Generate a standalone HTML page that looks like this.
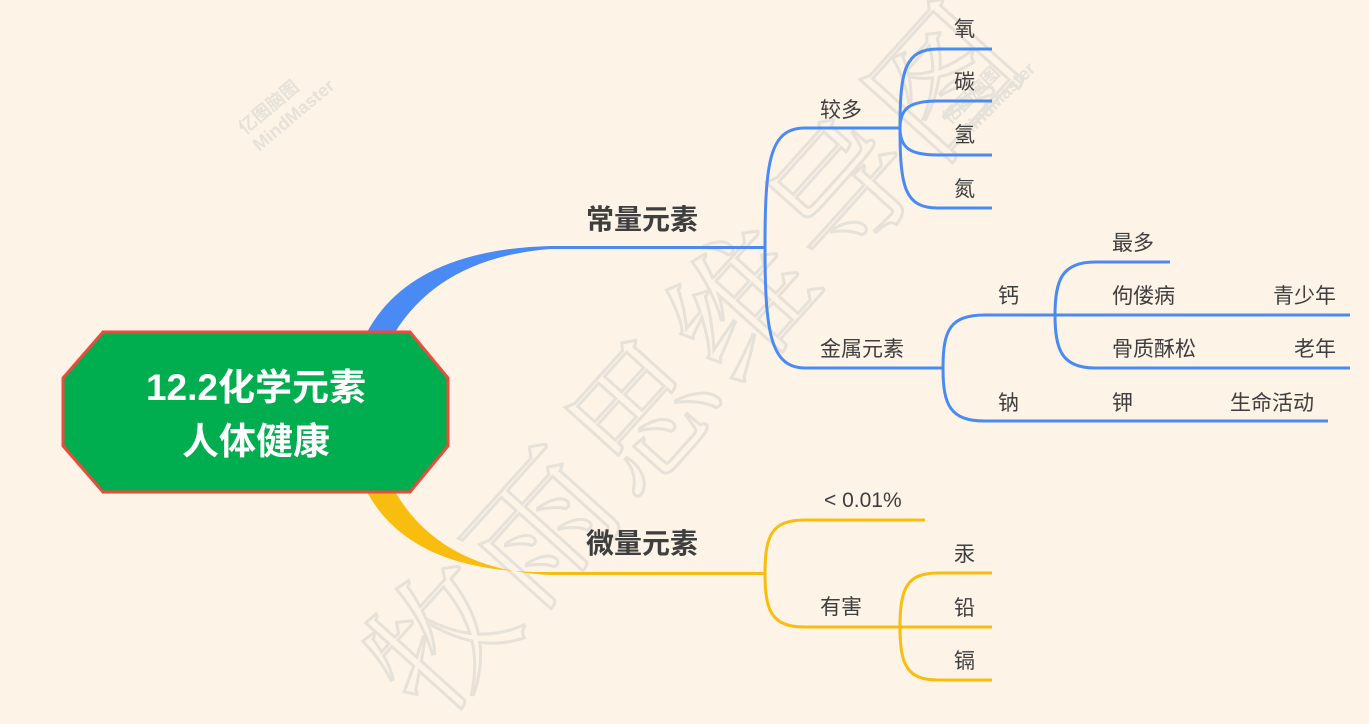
<!DOCTYPE html>
<html><head><meta charset="utf-8"><style>
html,body{margin:0;padding:0;background:#fdf3e7;}
svg{display:block}
text{font-family:"Liberation Sans","Noto Sans CJK SC",sans-serif;}
</style></head><body>
<svg width="1369" height="724" viewBox="0 0 1369 724" xmlns="http://www.w3.org/2000/svg">
<rect width="1369" height="724" fill="#fdf3e7"/>
<!-- watermark -->
<g transform="translate(700,360) rotate(-48)">
<text x="0" y="45" text-anchor="middle" font-size="140" fill="none" stroke="#e6e1d9" stroke-width="3" style="font-family:'Noto Serif CJK SC',serif" letter-spacing="10">牧雨思维导图</text>
</g>
<g transform="translate(245,135) rotate(-40)" fill="#e6e1d9" font-size="18" font-weight="bold">
<text x="0" y="0">亿图脑图</text><text x="0" y="22">MindMaster</text>
</g>
<g transform="translate(950,125) rotate(-45)" fill="#e6e1d9" font-size="18" font-weight="bold">
<text x="0" y="0">亿图脑图</text><text x="0" y="22">MindMaster</text>
</g>
<!-- main branches -->
<path d="M366,334 Q410,250 550,246 L765,246 L765,249 L550,249 Q440,258 394,334 Z" fill="#4a8af4"/>
<path d="M366,490 Q410,574 550,572 L765,572 L765,575 L550,575 Q440,570 394,490 Z" fill="#f9bd0f"/>
<!-- blue sub -->
<g fill="none" stroke="#4a8af4" stroke-width="3">
<path d="M765,247 C765,160 770,128 805,128 L900,128"/>
<path d="M765,247 C765,330 770,368 805,368 L943,368"/>
<path d="M900,128 C900,70 905,49 938,49 L992,49"/>
<path d="M900,128 C900,108 910,101 938,101 L992,101"/>
<path d="M900,128 C900,148 910,155 938,155 L992,155"/>
<path d="M900,128 C900,188 905,208 938,208 L992,208"/>
<path d="M943,368 C943,330 950,315 985,315 L1350,315"/>
<path d="M943,368 C943,405 950,421 985,421 L1328,421"/>
<path d="M1055,315 C1055,280 1062,262 1095,262 L1170,262"/>
<path d="M1055,315 C1055,350 1062,368 1095,368 L1350,368"/>
</g>
<!-- yellow sub -->
<g fill="none" stroke="#f9bd0f" stroke-width="3">
<path d="M765,573 C765,535 772,520 805,520 L925,520"/>
<path d="M765,573 C765,612 772,627 805,627 L900,627"/>
<path d="M900,627 C900,588 907,573 938,573 L992,573"/>
<path d="M900,627 L992,627"/>
<path d="M900,627 C900,665 907,680 938,680 L992,680"/>
</g>
<!-- central node -->
<polygon points="103,332 410,332 448,378 448,446 410,492 103,492 63,446 63,378" fill="#00ad4f" stroke="#ec4a3c" stroke-width="3"/>
<text x="256" y="400" text-anchor="middle" font-size="37" font-weight="bold" fill="#fff">12.2化学元素</text>
<text x="256" y="454" text-anchor="middle" font-size="37" font-weight="bold" fill="#fff">人体健康</text>
<!-- labels -->
<g fill="#3e3e3e">
<text x="586" y="229" font-size="28" font-weight="bold">常量元素</text>
<text x="586" y="553" font-size="28" font-weight="bold">微量元素</text>
<g font-size="21">
<text x="820" y="117">较多</text>
<text x="820" y="356">金属元素</text>
<text x="954" y="36">氧</text>
<text x="954" y="89">碳</text>
<text x="954" y="142">氢</text>
<text x="954" y="196">氮</text>
<text x="998" y="303">钙</text>
<text x="998" y="410">钠</text>
<text x="1112" y="250">最多</text>
<text x="1112" y="303">佝偻病</text>
<text x="1112" y="356">骨质酥松</text>
<text x="1112" y="410">钾</text>
<text x="1336" y="303" text-anchor="end">青少年</text>
<text x="1336" y="356" text-anchor="end">老年</text>
<text x="1314" y="410" text-anchor="end">生命活动</text>
<text x="824" y="507">&lt; 0.01%</text>
<text x="820" y="614">有害</text>
<text x="954" y="561">汞</text>
<text x="954" y="615">铅</text>
<text x="954" y="668">镉</text>
</g>
</g>
</svg>
</body></html>
